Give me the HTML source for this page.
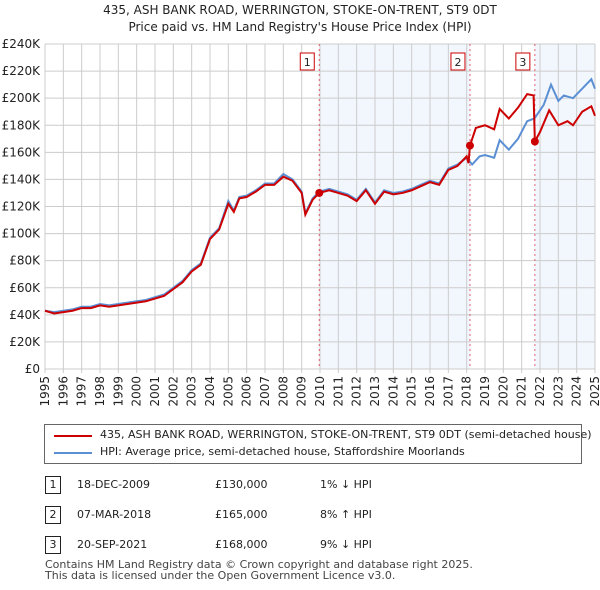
<!DOCTYPE html>
<html><head><meta charset="utf-8"><style>
body{margin:0;background:#fff;font-family:"DejaVu Sans","Liberation Sans",sans-serif;}
#wrap{position:relative;width:600px;height:590px;overflow:hidden}
.t{position:absolute;font-size:12px;color:#222;white-space:nowrap}
svg text{font-family:"DejaVu Sans","Liberation Sans",sans-serif}
</style></head><body><div id="wrap">
<svg id="chart" width="600" height="420" style="position:absolute;left:0;top:0">
<text x="300" y="14" text-anchor="middle" font-size="12" fill="#222">435, ASH BANK ROAD, WERRINGTON, STOKE-ON-TRENT, ST9 0DT</text>
<text x="300" y="31" text-anchor="middle" font-size="12" fill="#222">Price paid vs. HM Land Registry's House Price Index (HPI)</text>
</svg>
<div style="position:absolute;left:44px;top:424px;width:536px;height:38px;border:1px solid #666;background:#fff">
<div style="position:absolute;left:9px;top:10px;width:38px;height:2px;background:#cc0000"></div>
<div class="t" style="left:55px;top:3px;font-size:11px">435, ASH BANK ROAD, WERRINGTON, STOKE-ON-TRENT, ST9 0DT (semi-detached house)</div>
<div style="position:absolute;left:9px;top:27px;width:38px;height:2px;background:#5b8fd4"></div>
<div class="t" style="left:55px;top:20px;font-size:11px">HPI: Average price, semi-detached house, Staffordshire Moorlands</div>
</div>
<div id="tbl"></div>
<div class="t" style="left:45px;top:559px;font-size:11px;color:#444;line-height:11px">Contains HM Land Registry data © Crown copyright and database right 2025.<br>This data is licensed under the Open Government Licence v3.0.</div>
</div>
<script>
const hpiYears=[1995,1995.5,1996,1996.5,1997,1997.5,1998,1998.5,1999,1999.5,2000,2000.5,2001,2001.5,2002,2002.5,2003,2003.5,2004,2004.5,2005,2005.3,2005.6,2006,2006.5,2007,2007.5,2008,2008.5,2009,2009.2,2009.6,2009.96,2010.5,2011,2011.5,2012,2012.5,2013,2013.5,2014,2014.5,2015,2015.5,2016,2016.5,2017,2017.5,2018,2018.3,2018.7,2019,2019.5,2019.8,2020.3,2020.8,2021.3,2021.7,2022.2,2022.6,2023,2023.3,2023.8,2024.3,2024.8,2025];
const hpiValues=[43,42,43,44,46,46,48,47,48,49,50,51,53,55,60,65,73,78,97,104,124,117,127,128,132,137,137,144,140,131,115,126,131,133,131,129,125,133,123,132,130,131,133,136,139,137,148,151,156,151,157,158,156,169,162,170,183,185,195,210,198,202,200,207,214,207];
const redYears=[1995,1995.5,1996,1996.5,1997,1997.5,1998,1998.5,1999,1999.5,2000,2000.5,2001,2001.5,2002,2002.5,2003,2003.5,2004,2004.5,2005,2005.3,2005.6,2006,2006.5,2007,2007.5,2008,2008.5,2009,2009.2,2009.6,2009.96,2010.5,2011,2011.5,2012,2012.5,2013,2013.5,2014,2014.5,2015,2015.5,2016,2016.5,2017,2017.5,2018,2018.1,2018.18,2018.5,2019,2019.5,2019.8,2020.3,2020.8,2021.3,2021.65,2021.72,2022,2022.5,2023,2023.5,2023.8,2024.3,2024.8,2025];
const redValues=[43,41,42,43,45,45,47,46,47,48,49,50,52,54,59,64,72,77,96,103,122,116,126,127,131,136,136,142,139,130,114,125,130,132,130,128,124,132,122,131,129,130,132,135,138,136,147,150,157,152,165,178,180,177,192,185,193,203,202,168,175,191,180,183,180,190,194,187];
const sales=[{n:"1",y:2009.96,v:130,d:"18-DEC-2009",p:"£130,000",h:"1% ↓ HPI"},{n:"2",y:2018.18,v:165,d:"07-MAR-2018",p:"£165,000",h:"8% ↑ HPI"},{n:"3",y:2021.72,v:168,d:"20-SEP-2021",p:"£168,000",h:"9% ↓ HPI"}];
const yTicks=[0,20,40,60,80,100,120,140,160,180,200,220,240];
const xTicks=[1995,1996,1997,1998,1999,2000,2001,2002,2003,2004,2005,2006,2007,2008,2009,2010,2011,2012,2013,2014,2015,2016,2017,2018,2019,2020,2021,2022,2023,2024,2025];
const X=y=>45+(y-1995)*550/30, Y=v=>369-v*325/240;
const NS="http://www.w3.org/2000/svg", svg=document.getElementById('chart');
function mk(t,a){const e=document.createElementNS(NS,t);for(const k in a)e.setAttribute(k,a[k]);svg.appendChild(e);return e;}
let r=mk('rect',{x:X(sales[0].y),y:44,width:X(sales[1].y)-X(sales[0].y),height:325,fill:'#f2f6fd'});


r=mk('rect',{x:X(sales[2].y),y:44,width:X(2025)-X(sales[2].y),height:325,fill:'#f2f6fd'});


yTicks.forEach(v=>{let l=mk('line',{x1:45,x2:595,y1:Y(v),y2:Y(v),stroke:'#ccc'});


let t=mk('text',{x:40,y:Y(v)+4,'text-anchor':'end','font-size':12,fill:'#222'});t.textContent=v?'£'+v+'K':'£0';

});
xTicks.forEach(y=>{let l=mk('line',{x1:X(y),x2:X(y),y1:44,y2:373,stroke:'#ccc'});


let t=mk('text',{x:0,y:0,'text-anchor':'end','font-size':12,fill:'#222',transform:'translate('+(X(y)+4)+',376) rotate(-90)'});t.textContent=y;

});
sales.forEach(s=>{let l=mk('line',{x1:X(s.y),x2:X(s.y),y1:44,y2:369,stroke:'#e06070','stroke-dasharray':'2,3'});


let b=mk('rect',{x:X(s.y)-19,y:53,width:14,height:17,fill:'#fff',stroke:'#cc0000'});


let t=mk('text',{x:X(s.y)-12,y:66,'text-anchor':'middle','font-size':11,fill:'#222'});t.textContent=s.n;

});
let p=mk('polyline',{points:hpiYears.map((y,i)=>X(y)+','+Y(hpiValues[i])).join(' '),fill:'none',stroke:'#5b8fd4','stroke-width':2});


p=mk('polyline',{points:redYears.map((y,i)=>X(y)+','+Y(redValues[i])).join(' '),fill:'none',stroke:'#cc0000','stroke-width':2});


sales.forEach(s=>{let c=mk('circle',{cx:X(s.y),cy:Y(s.v),r:4,fill:'#cc0000'});

});
const tbl=document.getElementById('tbl');
sales.forEach((s,i)=>{const top=476+i*30;
const row=document.createElement('div');row.style.cssText='position:absolute;left:0;top:'+top+'px;width:600px;height:20px';


row.innerHTML='<div class="t" style="left:45px;top:0;width:14px;height:16px;border:1px solid #222;text-align:center;font-size:11px;line-height:16px">'+s.n+'</div><div class="t" style="left:77px;top:2px;font-size:11px">'+s.d+'</div><div class="t" style="left:215px;top:2px;font-size:11px">'+s.p+'</div><div class="t" style="left:320px;top:2px;font-size:11px">'+s.h+'</div>';
tbl.appendChild(row);});
</script></body></html>
